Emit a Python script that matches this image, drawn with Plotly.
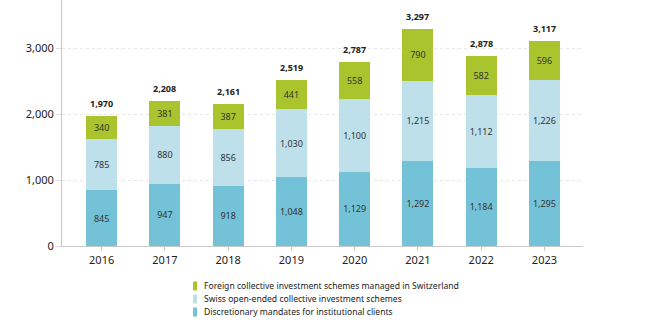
import plotly.graph_objects as go

years = ["2016", "2017", "2018", "2019", "2020", "2021", "2022", "2023"]
discretionary = [845, 947, 918, 1048, 1129, 1292, 1184, 1295]
swiss_open = [785, 880, 856, 1030, 1100, 1215, 1112, 1226]
foreign = [340, 381, 387, 441, 558, 790, 582, 596]
totals = [1970, 2208, 2161, 2519, 2787, 3297, 2878, 3117]

series_names = [
    "Foreign collective investment schemes managed in Switzerland",
    "Swiss open-ended collective investment schemes",
    "Discretionary mandates for institutional clients",
]
colors = ["#a9c42c", "#bde0ea", "#74c2d7"]

FONT = "Noto Sans"
fig = go.Figure()

for vals, name, col in [
    (discretionary, series_names[2], colors[2]),
    (swiss_open, series_names[1], colors[1]),
    (foreign, series_names[0], colors[0]),
]:
    fig.add_trace(go.Bar(
        x=years, y=vals, name=name, marker=dict(color=col, line=dict(width=0)),
        width=0.49, text=vals, texttemplate="%{y:,}", textposition="inside",
        insidetextanchor="middle", constraintext="none", textangle=0,
        textfont=dict(size=9, color="#333333", family=FONT),
        showlegend=False, hoverinfo="skip",
    ))

# totals above each stack (category index on the category axis)
for i, t in enumerate(totals):
    fig.add_annotation(x=i, y=t, xref="x", yref="y", text=f"<b>{t:,}</b>",
                       showarrow=False, xanchor="center", yanchor="bottom", yshift=4,
                       font=dict(size=9, color="#222222", family=FONT))

# custom legend
L, R, B = 62, 583, 246
W = R - L
rows = [286, 299, 312]
for name, col, py in zip(series_names, colors, rows):
    fig.add_shape(type="rect", xref="paper", yref="paper",
                  x0=(193 - L) / W, x1=(197 - L) / W,
                  y0=(B - py - 4.5) / B, y1=(B - py + 4.5) / B,
                  fillcolor=col, line=dict(width=0))
    fig.add_annotation(xref="paper", yref="paper", x=(202 - L) / W, y=(B - py) / B,
                       text=name, showarrow=False, xanchor="left", yanchor="middle",
                       font=dict(size=8.6, color="#222222", family=FONT))

fig.update_layout(
    width=650, height=325,
    margin=dict(l=L, r=650 - R, t=0, b=325 - B),
    plot_bgcolor="white", paper_bgcolor="white",
    barmode="stack", bargap=0.5,
    font=dict(family=FONT, size=11, color="#222222"),
    xaxis=dict(
        type="category", range=[-0.627, 7.61],
        showline=True, linecolor="#c8c8c8", linewidth=1,
        ticks="outside", ticklen=4, tickcolor="#c8c8c8",
        tickfont=dict(size=11, family=FONT, color="#222222"),
        showgrid=False,
    ),
    yaxis=dict(
        range=[0, 3733], tickvals=[0, 1000, 2000, 3000], tickformat=",",
        showline=True, linecolor="#c8c8c8", linewidth=1,
        ticks="outside", ticklen=5, tickcolor="#dddddd",
        showgrid=True, gridcolor="#e6e6e6", griddash="dot", gridwidth=1,
        zeroline=False,
        tickfont=dict(size=11, family=FONT, color="#222222"),
    ),
)

fig.write_html("out.html")
